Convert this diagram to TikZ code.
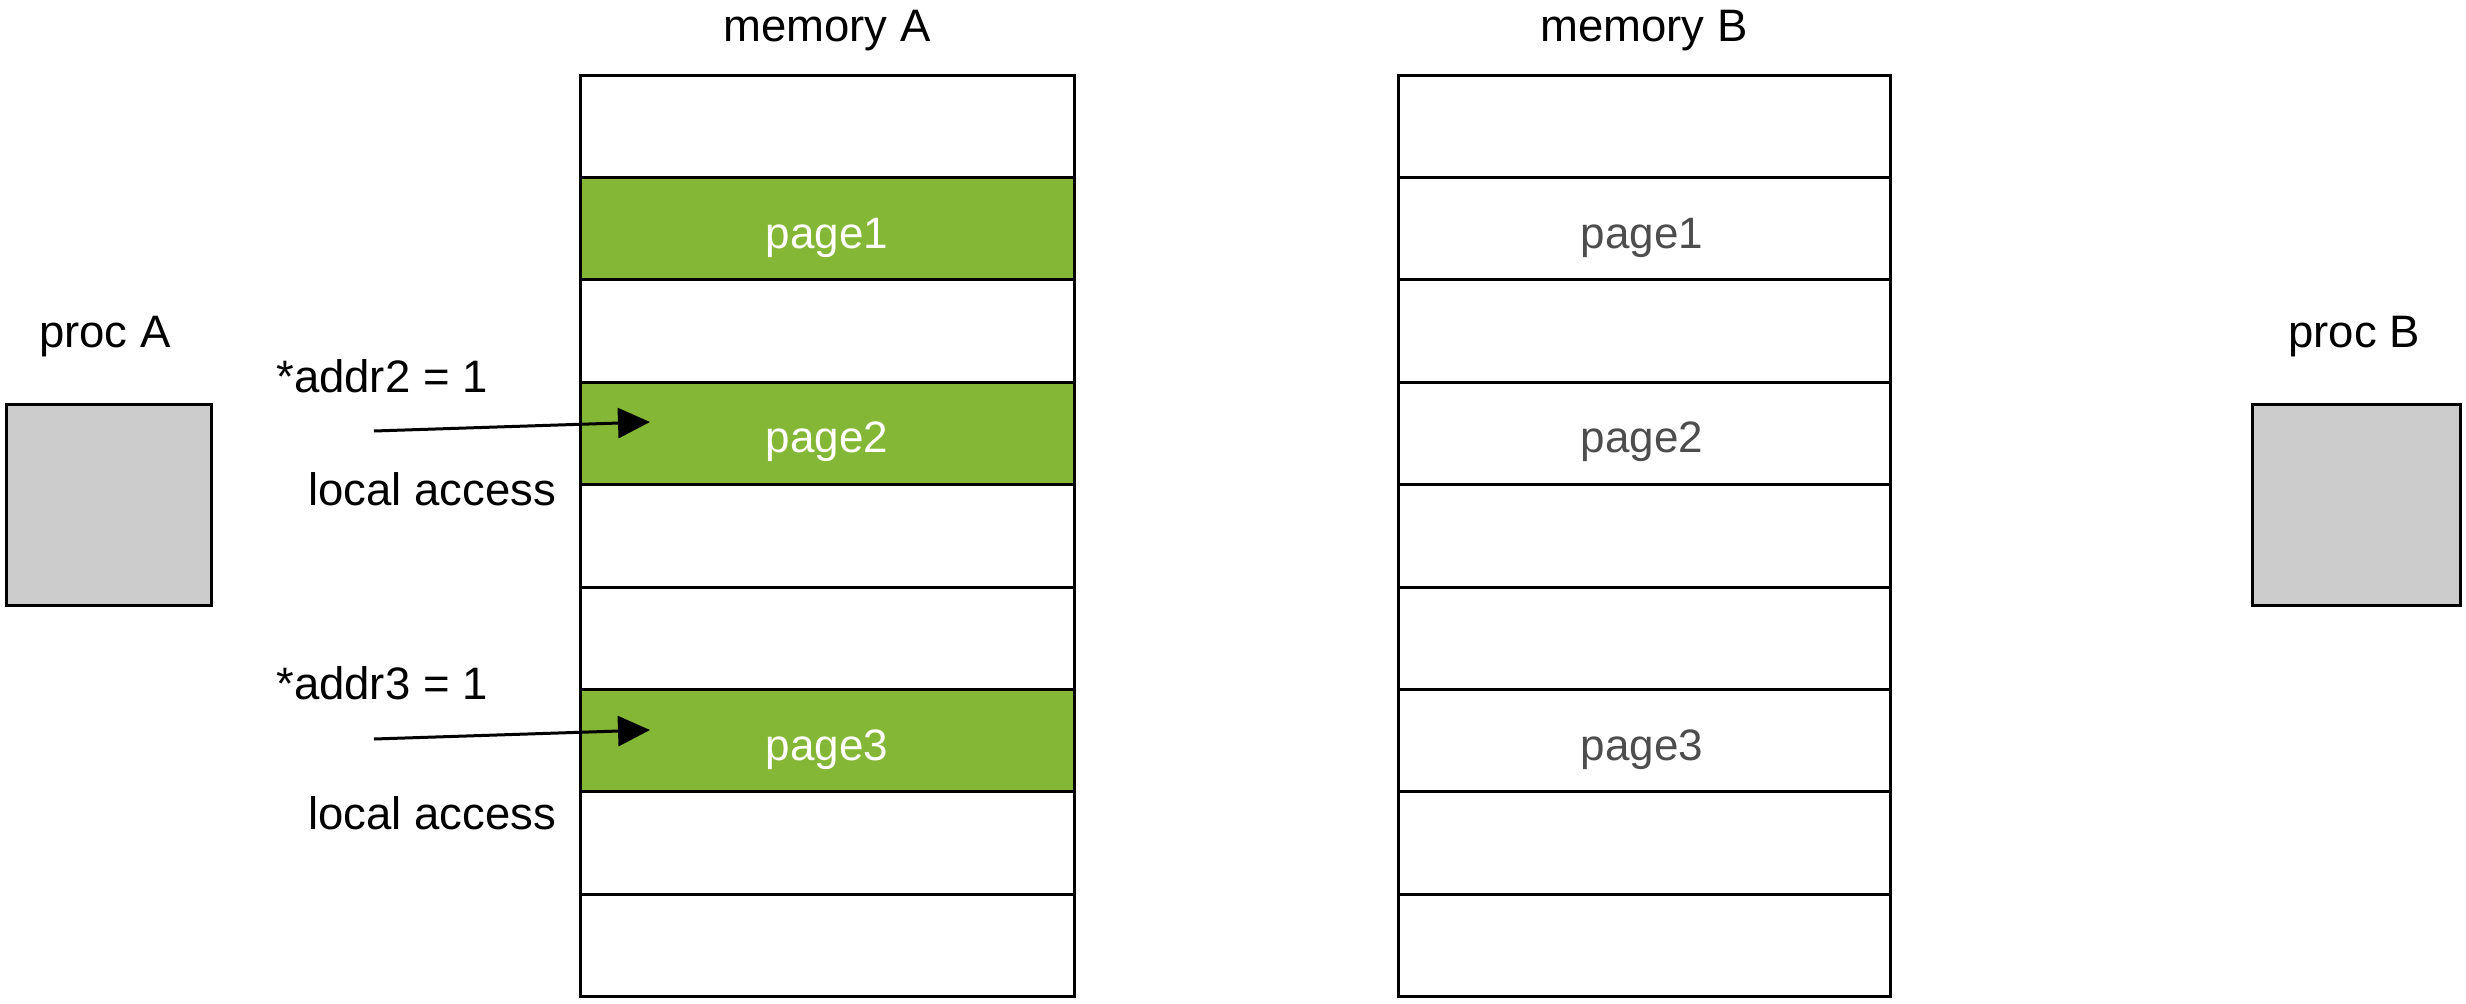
\documentclass[tikz,border=0pt]{standalone}
\usepackage{fontspec}
\setmainfont{Liberation Sans}
\usetikzlibrary{arrows.meta}
\definecolor{pagegreen}{HTML}{85B737}
\definecolor{procgray}{HTML}{CCCCCC}
\definecolor{pagetext}{HTML}{4D4D4D}
\begin{document}
\begin{tikzpicture}[x=1pt,y=-1pt,
  every node/.style={font=\fontsize{45.5}{54}\selectfont},
  cellA/.style={draw=black, line width=3pt, minimum width=494pt, minimum height=102.4pt, inner sep=0pt},
  cellB/.style={draw=black, line width=3pt, minimum width=492pt, minimum height=102.4pt, inner sep=0pt},
  pageA/.style={anchor=base, inner sep=0pt, text=white, font=\fontsize{44}{52}\selectfont},
  pageB/.style={anchor=base, inner sep=0pt, text=pagetext, font=\fontsize{44}{52}\selectfont},
  procbox/.style={draw=black, line width=3pt, fill=procgray, inner sep=0pt, minimum height=201pt},
  lbl/.style={anchor=base, inner sep=0pt},
  access/.style={line width=3pt, -{Triangle[length=32pt, width=30pt]}}
]
\useasboundingbox (0,0) rectangle (2466,1004);
% memory A
\foreach \i/\f in {0/white,1/pagegreen,2/white,3/pagegreen,4/white,5/white,6/pagegreen,7/white,8/white}{
  \node[cellA, fill=\f] (mA\i) at (827, {126.2+102.4*\i}) {};
}
% memory B
\foreach \i in {0,...,8}{
  \node[cellB, fill=white] (mB\i) at (1644, {126.2+102.4*\i}) {};
}
% page labels
\foreach \i/\t in {1/page1,3/page2,6/page3}{
  \node[pageA] (tA\i) at (827, {126.2+102.4*\i+19.4}) {\t};
  \node[pageB] (tB\i) at (1642, {126.2+102.4*\i+19.4}) {\t};
}
\node[lbl] (memA) at (827, 41) {memory A};
\node[lbl] (memB) at (1644, 41) {memory B};
% processors
\node[procbox, minimum width=205pt] (procA) at (108.5, 504.5) {};
\node[procbox, minimum width=208pt] (procB) at (2356, 504.5) {};
\node[lbl] (procAl) at (105, 347) {proc A};
\node[lbl] (procBl) at (2354, 347) {proc B};
% access labels
\node[lbl] (addr2) at (382, 392) {*addr2 = 1};
\node[lbl] (loc2) at (432, 505) {local access};
\node[lbl] (addr3) at (382, 699) {*addr3 = 1};
\node[lbl] (loc3) at (432, 829) {local access};
% arrows
\coordinate (s2) at (374, 431);
\coordinate (e2) at (650, 422);
\coordinate (s3) at (374, 739);
\coordinate (e3) at (650, 730);
\draw[access] (s2) -- (e2);
\draw[access] (s3) -- (e3);
\end{tikzpicture}
\end{document}
